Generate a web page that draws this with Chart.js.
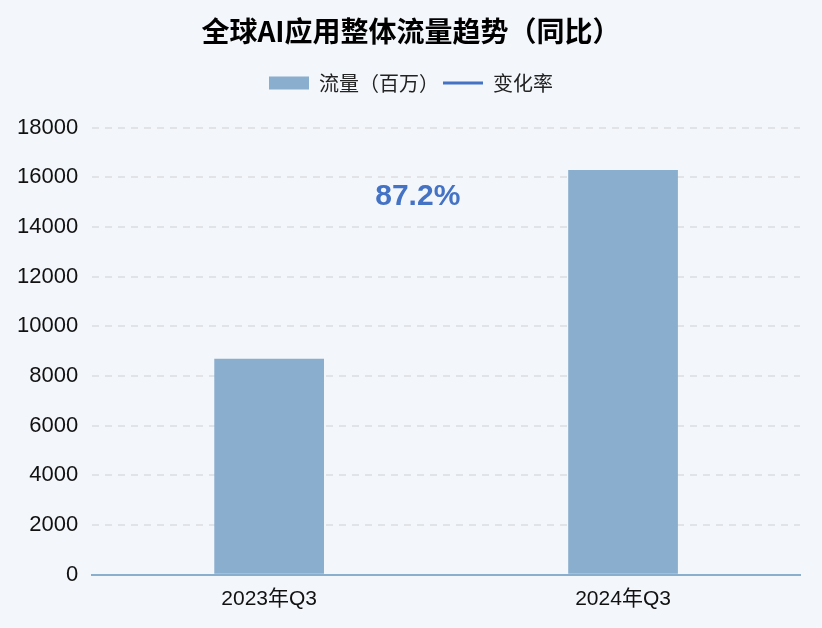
<!DOCTYPE html>
<html>
<head>
<meta charset="utf-8">
<script src="https://cdn.jsdelivr.net/npm/chart.js@4"></script>
<style>
  html, body { margin: 0; padding: 0; background: #f3f6fa; }
  #wrap { width: 822px; height: 628px; }
</style>
</head>
<body>
<div id="wrap"><canvas id="trafficChart" width="822" height="628"></canvas></div>
<script>
// 数据
const categories = ["2023年Q3", "2024年Q3"];
const trafficValues = [8700, 16290];   // 流量（百万）
const changeRate = [87.2];             // 变化率 %
const yTicks = [0, 2000, 4000, 6000, 8000, 10000, 12000, 14000, 16000, 18000];

const FONT = "'Liberation Sans', 'Noto Sans CJK SC', sans-serif";
const CJK = "'Noto Sans CJK SC', sans-serif";

// 在两根柱子之间写出变化率
const rateLabel = {
  id: "rateLabel",
  afterDatasetsDraw(chart) {
    const { ctx, scales } = chart;
    const x = scales.x.getPixelForValue(0.42);
    const y = scales.y.getPixelForValue(15200);
    ctx.save();
    ctx.font = "600 30px " + FONT;
    ctx.fillStyle = "#4472c4";
    ctx.textAlign = "center";
    ctx.textBaseline = "middle";
    ctx.fillText(changeRate[0].toFixed(1) + "%", x, y);
    ctx.restore();
  }
};

// 图例下方留出空间，标题和图例以画布中心对齐
const legendGap = {
  id: "legendGap",
  beforeInit(chart) {
    const fit = chart.legend.fit;
    chart.legend.fit = function () {
      fit.bind(chart.legend)();
      this.height += 24.5;
    };
  },
  afterLayout(chart) {
    const shift = chart.width / 2 - (chart.legend.left + chart.legend.right) / 2;
    [chart.titleBlock, chart.legend].forEach(b => {
      b.left += shift;
      b.right += shift;
    });
  }
};

new Chart(document.getElementById("trafficChart"), {
  type: "bar",
  data: {
    labels: categories,
    datasets: [
      {
        label: "流量（百万）",
        data: trafficValues,
        backgroundColor: "#8aaecd",
        borderWidth: 0,
        categoryPercentage: 0.62,
        barPercentage: 0.5,
        pointStyle: "rect"
      },
      {
        type: "line",
        label: "变化率",
        data: [],
        borderColor: "#4472c4",
        backgroundColor: "#4472c4",
        borderWidth: 3,
        borderCapStyle: "round",
        pointStyle: "line"
      }
    ]
  },
  options: {
    responsive: false,
    animation: false,
    layout: { padding: { left: 3, right: 22, top: 8, bottom: 4 } },
    plugins: {
      title: {
        display: true,
        text: "全球AI应用整体流量趋势（同比）",
        color: "#000",
        font: { family: CJK, size: 28, weight: "bold" },
        padding: { top: 7, bottom: 20.5 }
      },
      legend: {
        labels: {
          usePointStyle: true,
          pointStyleWidth: 40,
          boxHeight: 13,
          color: "#222",
          font: { family: CJK, size: 20 },
          padding: 4
        }
      },
      tooltip: { enabled: false }
    },
    scales: {
      x: {
        grid: { display: false, drawTicks: false },
        border: { color: "#8aaecd", width: 2 },
        ticks: {
          color: "#111",
          font: { family: FONT, size: 21 },
          padding: 12
        }
      },
      y: {
        min: 0,
        max: 18000,
        afterBuildTicks(axis) {
          axis.ticks = yTicks.map(v => ({ value: v }));
        },
        grid: { color: "#e1e3e6", lineWidth: 2, drawTicks: false },
        border: { display: false, dash: [7, 6] },
        ticks: {
          color: "#111",
          font: { family: FONT, size: 22 },
          padding: 14,
          callback: v => String(v)
        }
      }
    }
  },
  plugins: [rateLabel, legendGap]
});
</script>
</body>
</html>
